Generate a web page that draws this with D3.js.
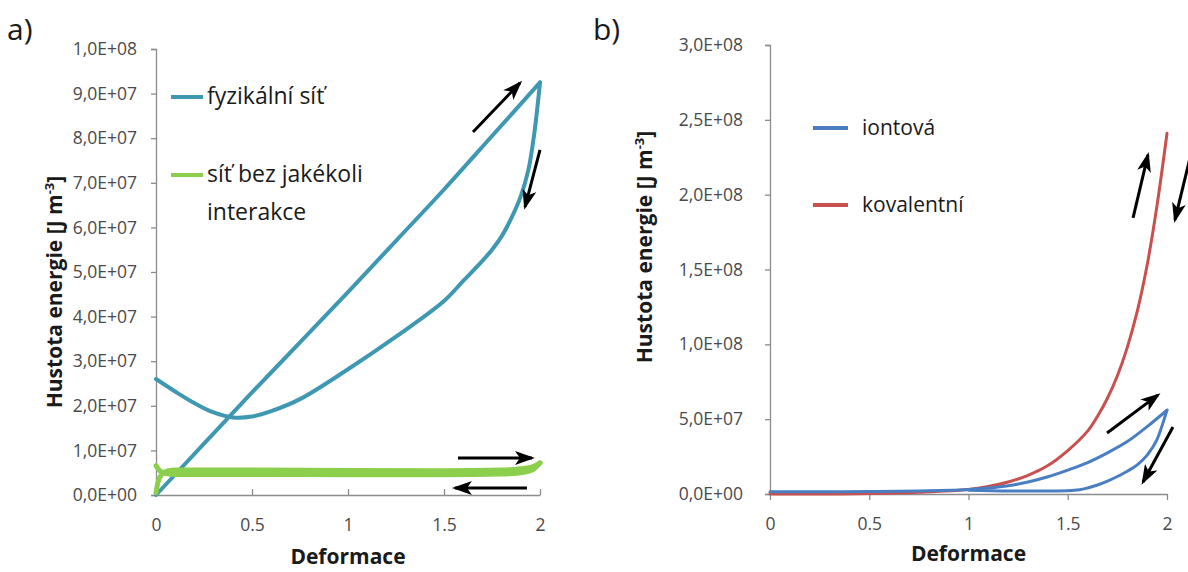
<!DOCTYPE html>
<html>
<head>
<meta charset="utf-8">
<script src="https://cdn.jsdelivr.net/npm/d3@7"></script>
<style>
  html, body { margin: 0; padding: 0; background: #fff; }
  svg { display: block; font-family: "Open Sans", sans-serif; }
</style>
</head>
<body>
<svg id="chart" width="1188" height="572"></svg>
<script>
// ---------- Panel a data ----------
const aXTicks = [0, 0.5, 1, 1.5, 2];
const aXTickLabels = ["0", "0.5", "1", "1.5", "2"];
const aYTicks = [0, 1e7, 2e7, 3e7, 4e7, 5e7, 6e7, 7e7, 8e7, 9e7, 1e8];
const aYTickLabels = ["0,0E+00", "1,0E+07", "2,0E+07", "3,0E+07", "4,0E+07", "5,0E+07", "6,0E+07", "7,0E+07", "8,0E+07", "9,0E+07", "1,0E+08"];

const fyzLoadX = [0, 0.25, 0.5, 0.75, 1, 1.25, 1.5, 1.75, 2];
const fyzLoadY = [0, 1.15e7, 2.3e7, 3.42e7, 4.55e7, 5.7e7, 6.85e7, 8.05e7, 9.25e7];
const fyzUnloadX = [0, 0.1, 0.2, 0.3, 0.4, 0.5, 0.6, 0.75, 1.0, 1.25, 1.5, 1.6, 1.7, 1.75, 1.8, 1.85, 1.9, 1.94, 1.97, 2.0];
const fyzUnloadY = [2.6e7, 2.32e7, 2.06e7, 1.85e7, 1.74e7, 1.76e7, 1.88e7, 2.15e7, 2.82e7, 3.55e7, 4.35e7, 4.8e7, 5.25e7, 5.5e7, 5.8e7, 6.2e7, 6.7e7, 7.3e7, 8.1e7, 9.25e7];

const bezLoadX = [0, 0.01, 0.03, 0.06, 0.1, 0.5, 1, 1.5, 1.8, 1.9, 1.96, 2];
const bezLoadY = [0.5e6, 2.8e6, 4.6e6, 5.4e6, 5.6e6, 5.6e6, 5.5e6, 5.45e6, 5.6e6, 5.9e6, 6.3e6, 7.2e6];
const bezUnloadX = [0, 0.02, 0.05, 0.1, 0.5, 1, 1.5, 1.8, 1.9, 1.96, 2];
const bezUnloadY = [6.6e6, 5.4e6, 4.8e6, 4.6e6, 4.6e6, 4.55e6, 4.55e6, 4.7e6, 5.0e6, 5.6e6, 7.2e6];

const aSeriesNames = ["fyzikální síť", "síť bez jakékoli", "interakce"];

// arrows in data coordinates [x1, y1, x2, y2]
const aArrows = [
  [1.651, 8.14e7, 1.896, 9.24e7],
  [2.0, 7.74e7, 1.922, 6.46e7],
  [1.573, 0.83e7, 1.958, 0.83e7],
  [1.932, 0.157e7, 1.557, 0.157e7]
];

// ---------- Panel b data ----------
const bXTicks = [0, 0.5, 1, 1.5, 2];
const bXTickLabels = ["0", "0.5", "1", "1.5", "2"];
const bYTicks = [0, 5e7, 1e8, 1.5e8, 2e8, 2.5e8, 3e8];
const bYTickLabels = ["0,0E+00", "5,0E+07", "1,0E+08", "1,5E+08", "2,0E+08", "2,5E+08", "3,0E+08"];

const ionLoadX = [0, 0.25, 0.5, 0.75, 1, 1.1, 1.2, 1.3, 1.4, 1.5, 1.6, 1.7, 1.8, 1.9, 2];
const ionLoadY = [1.5e6, 1.5e6, 1.6e6, 2e6, 3e6, 4e6, 5.5e6, 8e6, 1.15e7, 1.6e7, 2.1e7, 2.75e7, 3.5e7, 4.5e7, 5.6e7];
const ionUnloadX = [1.0, 1.2, 1.4, 1.5, 1.56, 1.6, 1.65, 1.7, 1.75, 1.8, 1.85, 1.9, 1.95, 2.0];
const ionUnloadY = [2.5e6, 2e6, 2e6, 2.2e6, 2.8e6, 4e6, 6e6, 8.6e6, 1.17e7, 1.52e7, 1.95e7, 2.6e7, 3.65e7, 5.6e7];

const kovX = [0, 0.25, 0.5, 0.75, 1.0, 1.1, 1.2, 1.3, 1.4, 1.5, 1.6, 1.65, 1.7, 1.75, 1.8, 1.85, 1.9, 1.95, 2.0];
const kovY = [0, 0, 3e5, 1.2e6, 3e6, 5e6, 8e6, 1.25e7, 1.9e7, 2.9e7, 4.2e7, 5.2e7, 6.4e7, 7.9e7, 9.8e7, 1.22e8, 1.53e8, 1.93e8, 2.41e8];

const bSeriesNames = ["iontová", "kovalentní"];

const bArrows = [
  [1.829, 1.845e8, 1.904, 2.266e8],
  [2.116, 2.246e8, 2.040, 1.831e8],
  [1.698, 4.08e7, 1.955, 6.62e7],
  [2.030, 4.48e7, 1.879, 0.80e7]
];

const colors = { fyz: "#3f98b2", bez: "#8ccf4c", ion: "#4a7ec3", kov: "#c9504e" };

// ---------- drawing ----------
const svg = d3.select("#chart");
const zip = (xs, ys) => xs.map((x, i) => [x, ys[i]]);

const defs = svg.append("defs");
defs.append("marker")
  .attr("id", "arrowhead")
  .attr("markerUnits", "userSpaceOnUse")
  .attr("viewBox", "0 0 20 14")
  .attr("refX", 17).attr("refY", 7)
  .attr("markerWidth", 20).attr("markerHeight", 14)
  .attr("orient", "auto")
  .append("path")
  .attr("d", "M0,0 L20,7 L0,14 L5,7 Z")
  .attr("fill", "#000");

function panel(cfg) {
  const x = d3.scaleLinear().domain([0, 2]).range(cfg.xRange);
  const y = d3.scaleLinear().domain(cfg.yDomain).range(cfg.yRange);
  const g = svg.append("g");

  // y axis
  const yAxis = d3.axisLeft(y).tickValues(cfg.yTicks)
    .tickFormat((d, i) => cfg.yTickLabels[i]).tickSize(5).tickPadding(cfg.yPad);
  const ya = g.append("g").attr("transform", `translate(${cfg.xRange[0]},0)`).call(yAxis);
  ya.select(".domain").attr("stroke", "#8c8c8c").attr("stroke-width", 1.3);
  ya.selectAll(".tick line").attr("stroke", "#8c8c8c").attr("stroke-width", 1.3);
  ya.selectAll(".tick text").attr("fill", "#4a4a4a").style("font-size", "17.5px").style("font-family", "'Open Sans', sans-serif");

  // x axis
  const xAxis = d3.axisBottom(x).tickValues(cfg.xTicks)
    .tickFormat((d, i) => cfg.xTickLabels[i]).tickSizeInner(cfg.xTickInner).tickSizeOuter(0).tickPadding(cfg.xPad);
  const xa = g.append("g").attr("transform", `translate(0,${cfg.yRange[0]})`).call(xAxis);
  xa.select(".domain").attr("stroke", "#8c8c8c").attr("stroke-width", 1.3);
  xa.selectAll(".tick line").attr("stroke", "#8c8c8c").attr("stroke-width", 1.3);
  xa.selectAll(".tick text").attr("fill", "#4a4a4a").style("font-size", "17.5px").style("font-family", "'Open Sans', sans-serif");

  // series
  cfg.series.forEach(s => {
    const line = d3.line().x(d => x(d[0])).y(d => y(d[1]))
      .curve(s.smooth ? d3.curveCatmullRom.alpha(0.5) : d3.curveMonotoneX);
    g.append("path").datum(s.data).attr("d", line)
      .attr("fill", "none").attr("stroke", s.color).attr("stroke-width", s.width)
      .attr("stroke-linecap", "round").attr("stroke-linejoin", "round");
  });

  // arrows
  cfg.arrows.forEach(a => {
    g.append("line")
      .attr("x1", x(a[0])).attr("y1", y(a[1]))
      .attr("x2", x(a[2])).attr("y2", y(a[3]))
      .attr("stroke", "#000").attr("stroke-width", 3)
      .attr("marker-end", "url(#arrowhead)");
  });

  // axis titles
  const xMid = (cfg.xRange[0] + cfg.xRange[1]) / 2;
  g.append("text").attr("x", xMid).attr("y", cfg.xTitleY)
    .attr("text-anchor", "middle").attr("font-weight", "bold").attr("font-size", 21)
    .attr("fill", "#1a1a1a").text("Deformace");

  const yt = g.append("text")
    .attr("transform", `translate(${cfg.yTitleX},${cfg.yTitleY}) rotate(-90)`)
    .attr("text-anchor", "middle").attr("font-weight", "bold").attr("font-size", 21)
    .attr("fill", "#1a1a1a");
  yt.append("tspan").text("Hustota energie [J m");
  yt.append("tspan").attr("dy", -8).attr("font-size", 13).text("-3");
  yt.append("tspan").attr("dy", 8).text("]");

  // panel label
  g.append("text").attr("x", cfg.labelX).attr("y", 40).attr("font-size", 30)
    .attr("fill", "#1a1a1a").text(cfg.label);

  // legend
  cfg.legend.forEach(l => {
    g.append("line").attr("x1", l.x1).attr("x2", l.x2).attr("y1", l.y).attr("y2", l.y)
      .attr("stroke", l.color).attr("stroke-width", 4);
    l.lines.forEach((t, i) => {
      g.append("text").attr("x", l.tx).attr("y", l.y + 7 + i * 38)
        .attr("font-size", l.fs).attr("fill", "#1a1a1a").text(t);
    });
  });
}

panel({
  label: "a)", labelX: 7,
  xRange: [156, 540], yDomain: [0, 1e8], yRange: [495, 49],
  xTicks: aXTicks, xTickLabels: aXTickLabels, yTicks: aYTicks, yTickLabels: aYTickLabels,
  xTickInner: -6, xPad: 24, yPad: 14,
  xTitleY: 564, yTitleX: 62, yTitleY: 292,
  series: [
    { data: zip(fyzLoadX, fyzLoadY), color: colors.fyz, width: 4 },
    { data: zip(fyzUnloadX, fyzUnloadY), color: colors.fyz, width: 4, smooth: true },
    { data: zip(bezLoadX, bezLoadY), color: colors.bez, width: 5 },
    { data: zip(bezUnloadX, bezUnloadY), color: colors.bez, width: 5 }
  ],
  arrows: aArrows,
  legend: [
    { x1: 171, x2: 203, y: 97, tx: 207, color: colors.fyz, fs: 23, lines: [aSeriesNames[0]] },
    { x1: 171, x2: 203, y: 175, tx: 207, color: colors.bez, fs: 23, lines: [aSeriesNames[1], aSeriesNames[2]] }
  ]
});

panel({
  label: "b)", labelX: 593,
  xRange: [770, 1167], yDomain: [0, 3e8], yRange: [494, 45],
  xTicks: bXTicks, xTickLabels: bXTickLabels, yTicks: bYTicks, yTickLabels: bYTickLabels,
  xTickInner: 6, xPad: 18, yPad: 22,
  xTitleY: 561, yTitleX: 652, yTitleY: 247,
  series: [
    { data: zip(kovX, kovY), color: colors.kov, width: 3, smooth: true },
    { data: zip(ionLoadX, ionLoadY), color: colors.ion, width: 3 },
    { data: zip(ionUnloadX, ionUnloadY), color: colors.ion, width: 3 }
  ],
  arrows: bArrows,
  legend: [
    { x1: 813, x2: 848, y: 128, tx: 862, color: colors.ion, fs: 21, lines: [bSeriesNames[0]] },
    { x1: 813, x2: 848, y: 205, tx: 862, color: colors.kov, fs: 21, lines: [bSeriesNames[1]] }
  ]
});
</script>
</body>
</html>
